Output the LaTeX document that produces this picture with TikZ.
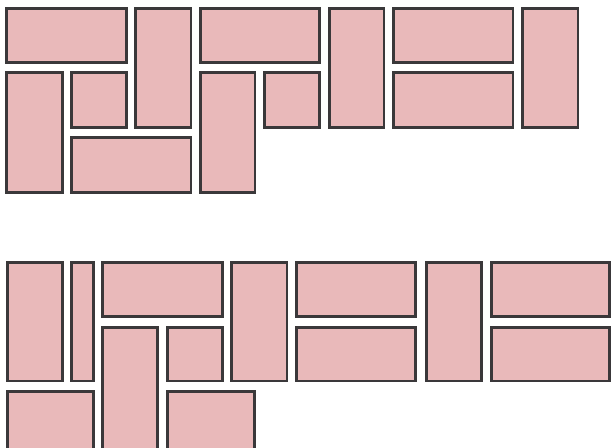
\documentclass[tikz,border=0pt]{standalone}
\definecolor{brickfill}{HTML}{E9B9BA}
\definecolor{brickline}{HTML}{3A383A}
\tikzset{brick/.style={fill=brickfill,draw=brickline,line width=2.8pt,line join=miter}}
\newcommand\brk[4]{\draw[brick] (#1+1.4,#2+1.4) rectangle (#3-1.4,#4-1.4);}
\begin{document}
\begin{tikzpicture}[x=1pt,y=-1pt]
\useasboundingbox (0,0) rectangle (612,447);
\clip (0,0) rectangle (612,447);
% top pattern
\brk{5}{6.7}{127.7}{64}
\brk{134.3}{6.7}{192.3}{129}
\brk{199}{6.7}{321}{64}
\brk{5}{71}{63.7}{194}
\brk{70}{71}{127.7}{129}
\brk{70}{135.7}{192.3}{194}
\brk{199}{71}{256.3}{194}
\brk{263.3}{71}{321}{129}
\brk{327.7}{6.7}{385.3}{129}
\brk{392}{6.7}{514.3}{64}
\brk{392}{71}{514.3}{129}
\brk{521}{6.7}{579.3}{129}
% bottom pattern
\brk{5.7}{260.7}{63.7}{382.3}
\brk{70}{260.7}{95}{382.3}
\brk{101.3}{260.7}{223.7}{317.7}
\brk{101.3}{325.7}{158.7}{452}
\brk{166}{325.7}{223.7}{382.3}
\brk{230.3}{260.7}{288.3}{382.3}
\brk{5.7}{390}{95}{452}
\brk{166}{390}{255.7}{452}
\brk{295}{260.7}{417}{317.7}
\brk{295}{325.7}{417}{382.3}
\brk{425}{260.7}{482.7}{382.3}
\brk{490.3}{260.7}{611}{317.7}
\brk{490.3}{325.7}{611}{382.3}
\end{tikzpicture}
\end{document}
